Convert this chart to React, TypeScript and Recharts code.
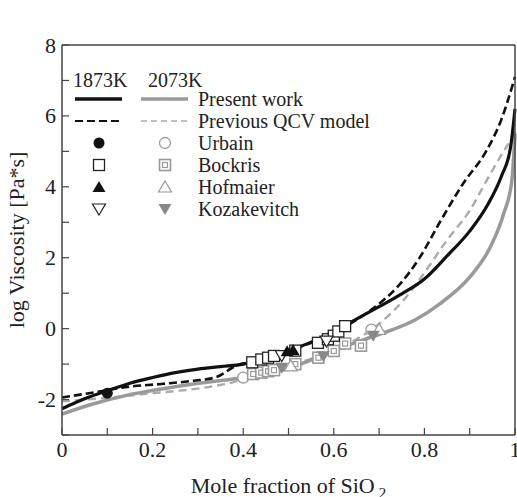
import { ComposedChart, Line, Scatter, XAxis, YAxis, Legend } from "recharts";

const FONT = "'Liberation Serif', 'DejaVu Serif', serif";
const GRAY = "#9a9a9a";
const GRAY_DASH = "#ababab";

const xTicks = [0, 0.1, 0.2, 0.3, 0.4, 0.5, 0.6, 0.7, 0.8, 0.9, 1];
const yTicks = [-3, -2, -1, 0, 1, 2, 3, 4, 5, 6, 7, 8];

// 1873K, present work
const present1873 = [
  { x: 0, y: -2.26 }, { x: 0.05, y: -1.98 }, { x: 0.1, y: -1.75 }, { x: 0.15, y: -1.54 },
  { x: 0.2, y: -1.38 }, { x: 0.25, y: -1.24 }, { x: 0.3, y: -1.14 }, { x: 0.35, y: -1.07 },
  { x: 0.4, y: -1.0 }, { x: 0.45, y: -0.82 }, { x: 0.5, y: -0.62 }, { x: 0.55, y: -0.38 },
  { x: 0.6, y: -0.08 }, { x: 0.65, y: 0.27 }, { x: 0.7, y: 0.62 }, { x: 0.75, y: 0.98 },
  { x: 0.8, y: 1.4 }, { x: 0.85, y: 2.05 }, { x: 0.9, y: 2.75 }, { x: 0.94, y: 3.5 },
  { x: 0.97, y: 4.3 }, { x: 0.99, y: 5.1 }, { x: 1, y: 6.2 },
];

// 1873K, previous QCV model
const previous1873 = [
  { x: 0, y: -1.94 }, { x: 0.07, y: -1.8 }, { x: 0.14, y: -1.65 }, { x: 0.22, y: -1.56 },
  { x: 0.29, y: -1.47 }, { x: 0.34, y: -1.37 }, { x: 0.385, y: -1.04 }, { x: 0.42, y: -0.92 },
  { x: 0.5, y: -0.62 }, { x: 0.55, y: -0.4 }, { x: 0.6, y: -0.12 }, { x: 0.65, y: 0.25 },
  { x: 0.69, y: 0.6 }, { x: 0.74, y: 1.17 }, { x: 0.79, y: 2.01 }, { x: 0.834, y: 3.0 },
  { x: 0.886, y: 4.1 }, { x: 0.937, y: 5.02 }, { x: 0.97, y: 5.9 }, { x: 1, y: 7.1 },
];

// 2073K, present work
const present2073 = [
  { x: 0, y: -2.41 }, { x: 0.07, y: -2.12 }, { x: 0.14, y: -1.89 }, { x: 0.22, y: -1.7 },
  { x: 0.29, y: -1.56 }, { x: 0.36, y: -1.45 }, { x: 0.4, y: -1.38 }, { x: 0.45, y: -1.27 },
  { x: 0.5, y: -1.12 }, { x: 0.57, y: -0.78 }, { x: 0.62, y: -0.52 }, { x: 0.68, y: -0.25 },
  { x: 0.71, y: -0.12 }, { x: 0.78, y: 0.25 }, { x: 0.834, y: 0.7 }, { x: 0.9, y: 1.45 },
  { x: 0.945, y: 2.29 }, { x: 0.975, y: 3.24 }, { x: 0.993, y: 4.17 }, { x: 1, y: 5.5 },
];

// 2073K, previous QCV model
const previous2073 = [
  { x: 0, y: -2.05 }, { x: 0.1, y: -1.95 }, { x: 0.2, y: -1.82 }, { x: 0.26, y: -1.75 },
  { x: 0.34, y: -1.61 }, { x: 0.38, y: -1.5 }, { x: 0.4, y: -1.4 }, { x: 0.45, y: -1.22 },
  { x: 0.5, y: -1.05 }, { x: 0.55, y: -0.85 }, { x: 0.6, y: -0.6 }, { x: 0.65, y: -0.3 },
  { x: 0.709, y: 0.23 }, { x: 0.753, y: 0.79 }, { x: 0.798, y: 1.54 }, { x: 0.849, y: 2.48 },
  { x: 0.9, y: 3.33 }, { x: 0.937, y: 4.17 }, { x: 0.97, y: 4.9 }, { x: 0.989, y: 5.3 },
  { x: 1, y: 5.6 },
];

const urbain1873 = [{ x: 0.1, y: -1.82 }];
const urbain2073 = [{ x: 0.4, y: -1.38 }, { x: 0.683, y: -0.03 }];

const bockris1873 = [
  { x: 0.42, y: -0.95 }, { x: 0.44, y: -0.87 }, { x: 0.455, y: -0.82 }, { x: 0.468, y: -0.77 },
  { x: 0.515, y: -0.62 }, { x: 0.565, y: -0.4 }, { x: 0.587, y: -0.3 }, { x: 0.6, y: -0.2 },
  { x: 0.61, y: -0.08 }, { x: 0.625, y: 0.07 },
];
const bockris2073 = [
  { x: 0.422, y: -1.28 }, { x: 0.44, y: -1.24 }, { x: 0.455, y: -1.2 }, { x: 0.468, y: -1.17 },
  { x: 0.515, y: -1.0 }, { x: 0.566, y: -0.82 }, { x: 0.6, y: -0.63 }, { x: 0.625, y: -0.42 },
  { x: 0.66, y: -0.48 },
];

const hofmaier1873 = [{ x: 0.497, y: -0.64 }, { x: 0.51, y: -0.6 }];
const hofmaier2073 = [{ x: 0.505, y: -1.05 }, { x: 0.7, y: -0.02 }];

const kozakevitch1873 = [{ x: 0.485, y: -0.76 }, { x: 0.584, y: -0.35 }];
const kozakevitch2073 = [{ x: 0.485, y: -1.1 }, { x: 0.577, y: -0.78 }, { x: 0.687, y: -0.2 }];

type Kind = "dot" | "ring" | "square" | "dsquare" | "triUp" | "triUpOpen" | "triDown" | "triDownOpen";

function Marker({ kind, cx, cy }: { kind: Kind; cx: number; cy: number }) {
  const s = 5.5;
  switch (kind) {
    case "dot":
      return <circle cx={cx} cy={cy} r={s} fill="#111" />;
    case "ring":
      return <circle cx={cx} cy={cy} r={s} fill="#fff" stroke={GRAY} strokeWidth={1.3} />;
    case "square":
      return <rect x={cx - s} y={cy - s} width={2 * s} height={2 * s} fill="#fff" stroke="#222" strokeWidth={1.3} />;
    case "dsquare":
      return (
        <g>
          <rect x={cx - s} y={cy - s} width={2 * s} height={2 * s} fill="#fff" stroke={GRAY} strokeWidth={1.6} />
          <rect x={cx - 2.5} y={cy - 2.5} width={5} height={5} fill="none" stroke={GRAY} strokeWidth={1.2} />
        </g>
      );
    case "triUp":
      return <polygon points={`${cx},${cy - 6} ${cx + 6.5},${cy + 5} ${cx - 6.5},${cy + 5}`} fill="#111" />;
    case "triUpOpen":
      return (
        <polygon points={`${cx},${cy - 6} ${cx + 6.5},${cy + 5} ${cx - 6.5},${cy + 5}`} fill="#fff" stroke={GRAY} strokeWidth={1.2} />
      );
    case "triDown":
      return <polygon points={`${cx},${cy + 6} ${cx + 6.5},${cy - 5} ${cx - 6.5},${cy - 5}`} fill="#888" />;
    default:
      return (
        <polygon points={`${cx},${cy + 6} ${cx + 6.5},${cy - 5} ${cx - 6.5},${cy - 5}`} fill="#fff" stroke="#222" strokeWidth={1.2} />
      );
  }
}

const shapeOf = (kind: Kind) => (p: any) => <Marker kind={kind} cx={p.cx} cy={p.cy} />;

const textStyle = { fontFamily: FONT, fontSize: 22, fill: "#222" };
const legendText = { fontFamily: FONT, fontSize: 20, fill: "#222" };

function BottomTick(props: any) {
  const { x, y, payload } = props;
  const v = payload.value as number;
  if (Math.round(v * 10) % 2 !== 0) return null;
  const label = v === 0 ? "0" : v === 1 ? "1" : v.toFixed(1);
  return (
    <text x={x} y={y + 29} textAnchor="middle" style={textStyle}>
      {label}
    </text>
  );
}

function LeftTick(props: any) {
  const { x, y, payload } = props;
  const v = payload.value as number;
  if (v % 2 !== 0) return null;
  return (
    <text x={x - 13} y={y + 7.5} textAnchor="end" style={textStyle}>
      {String(v)}
    </text>
  );
}

const legendRows: { label: string; left: Kind | "solid" | "dash"; right: Kind | "solid" | "dash" }[] = [
  { label: "Present work", left: "solid", right: "solid" },
  { label: "Previous QCV model", left: "dash", right: "dash" },
  { label: "Urbain", left: "dot", right: "ring" },
  { label: "Bockris", left: "square", right: "dsquare" },
  { label: "Hofmaier", left: "triUp", right: "triUpOpen" },
  { label: "Kozakevitch", left: "triDownOpen", right: "triDown" },
];

function LegendBox() {
  const glyph = (k: string, cx: number, cy: number, dark: boolean) => {
    if (k === "solid")
      return <line x1={cx - 24} x2={cx + 23} y1={cy} y2={cy} stroke={dark ? "#111" : GRAY} strokeWidth={3.5} />;
    if (k === "dash")
      return (
        <line
          x1={cx - 24}
          x2={cx + 23}
          y1={cy}
          y2={cy}
          stroke={dark ? "#111" : GRAY_DASH}
          strokeWidth={dark ? 2.2 : 1.6}
          strokeDasharray={dark ? "8 4" : "6 4"}
        />
      );
    return <Marker kind={k as Kind} cx={cx} cy={cy} />;
  };
  return (
    <svg width={420} height={230} style={{ display: "block" }}>
      <text x={73} y={87} style={legendText}>1873K</text>
      <text x={148} y={87} style={legendText}>2073K</text>
      {legendRows.map((r, i) => {
        const cy = 99 + i * 22;
        return (
          <g key={r.label}>
            {glyph(r.left, 99, cy, true)}
            {glyph(r.right, 165, cy, false)}
            <text x={198} y={cy + 7} style={legendText}>{r.label}</text>
          </g>
        );
      })}
    </svg>
  );
}

export default function App() {
  const axisLine = { stroke: "#444", strokeWidth: 1.5 };
  const tickLine = { stroke: "#444", strokeWidth: 1.2 };
  return (
    <div style={{ position: "absolute", left: 0, top: 0, background: "#fff" }}>
      <ComposedChart width={517} height={497} margin={{ top: 44, right: 1, bottom: 0, left: 0 }}>
        <XAxis
          dataKey="x"
          type="number"
          domain={[0, 1]}
          ticks={xTicks}
          height={62}
          axisLine={axisLine}
          tickLine={tickLine}
          tickSize={-7}
          tickMargin={0}
          tick={<BottomTick />}
          interval={0}
          label={{
            content: () => (
              <text x={288.5} y={493} textAnchor="middle" style={textStyle}>
                Mole fraction of SiO
                <tspan style={{ fontSize: 15 }} dx={4} dy={5}>2</tspan>
              </text>
            ),
          }}
        />
        <XAxis
          xAxisId="top"
          orientation="top"
          type="number"
          domain={[0, 1]}
          ticks={xTicks}
          height={1}
          axisLine={axisLine}
          tickLine={tickLine}
          tickSize={-7}
          tick={false}
          interval={0}
        />
        <YAxis
          dataKey="y"
          type="number"
          domain={[-3, 8]}
          ticks={yTicks}
          width={62}
          axisLine={axisLine}
          tickLine={tickLine}
          tickSize={-7}
          tickMargin={0}
          tick={<LeftTick />}
          interval={0}
          label={{
            content: () => (
              <text transform="translate(24,240) rotate(-90)" textAnchor="middle" style={textStyle}>
                log Viscosity [Pa*s]
              </text>
            ),
          }}
        />
        <YAxis
          yAxisId="right"
          orientation="right"
          type="number"
          domain={[-3, 8]}
          ticks={yTicks}
          width={1}
          axisLine={axisLine}
          tickLine={tickLine}
          tickSize={-7}
          tick={false}
          interval={0}
        />
        <Legend
          content={() => <LegendBox />}
          layout="horizontal"
          verticalAlign="middle"
          align="center"
          wrapperStyle={{ left: 0, top: 0, width: 420, height: 230 }}
        />
        <Line data={previous2073} dataKey="y" type="monotone" stroke={GRAY_DASH} strokeWidth={2.4} strokeDasharray="8 5" dot={false} isAnimationActive={false} />
        <Line data={present2073} dataKey="y" type="monotone" stroke={GRAY} strokeWidth={3.5} dot={false} isAnimationActive={false} />
        <Line data={previous1873} dataKey="y" type="monotone" stroke="#111" strokeWidth={2.6} strokeDasharray="8 4" dot={false} isAnimationActive={false} />
        <Line data={present1873} dataKey="y" type="monotone" stroke="#111" strokeWidth={3.2} dot={false} isAnimationActive={false} />
        <Scatter data={urbain2073} shape={shapeOf("ring")} isAnimationActive={false} />
        <Scatter data={bockris2073} shape={shapeOf("dsquare")} isAnimationActive={false} />
        <Scatter data={hofmaier2073} shape={shapeOf("triUpOpen")} isAnimationActive={false} />
        <Scatter data={kozakevitch2073} shape={shapeOf("triDown")} isAnimationActive={false} />
        <Scatter data={urbain1873} shape={shapeOf("dot")} isAnimationActive={false} />
        <Scatter data={bockris1873} shape={shapeOf("square")} isAnimationActive={false} />
        <Scatter data={kozakevitch1873} shape={shapeOf("triDownOpen")} isAnimationActive={false} />
        <Scatter data={hofmaier1873} shape={shapeOf("triUp")} isAnimationActive={false} />
      </ComposedChart>
    </div>
  );
}
